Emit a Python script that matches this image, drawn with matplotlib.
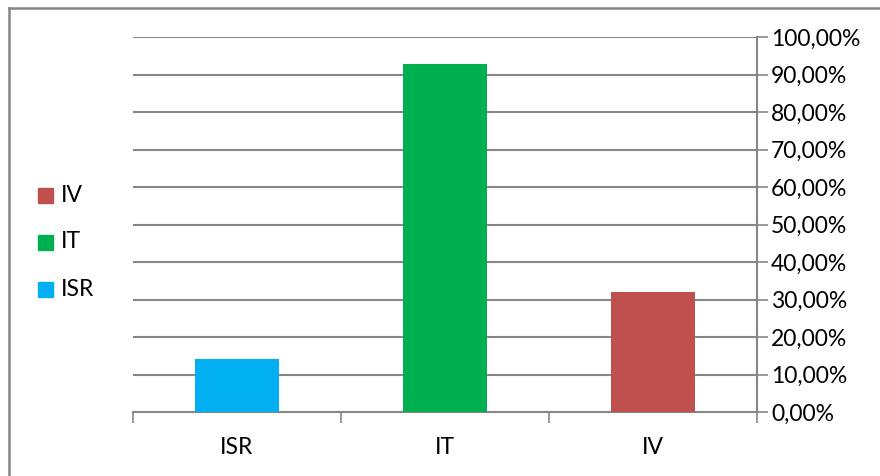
import matplotlib
matplotlib.use("Agg")
import matplotlib.pyplot as plt
from matplotlib.lines import Line2D
from matplotlib.patches import Rectangle

categories = ["ISR", "IT", "IV"]
values = [14.2, 92.8, 32.0]
colors = ["#00B0F0", "#00B050", "#C0504D"]
yticks = [0, 10, 20, 30, 40, 50, 60, 70, 80, 90, 100]
ytick_labels = ["0,00%", "10,00%", "20,00%", "30,00%", "40,00%", "50,00%",
                "60,00%", "70,00%", "80,00%", "90,00%", "100,00%"]
legend_order = ["IV", "IT", "ISR"]

plt.rcParams['font.family'] = ['Lato', 'DejaVu Sans']
FS = 16.5
W, H = 880, 476
fig = plt.figure(figsize=(W / 100, H / 100), dpi=100)
ax = fig.add_axes([133 / W, 1 - 412 / H, (757 - 133) / W, (412 - 37) / H])

grid_c = "#868686"
x = list(range(len(categories)))
ax.bar(x, values, width=0.40, color=colors, zorder=3)
ax.set_xlim(-0.5, len(categories) - 0.5)
ax.set_ylim(0, 100)

for y in yticks[1:]:
    ax.axhline(y, color=grid_c, lw=1.5, zorder=1)

ax.yaxis.tick_right()
ax.set_yticks(yticks)
ax.set_yticklabels(ytick_labels, fontsize=FS, color="#000000")
ax.tick_params(axis='y', length=8, width=1.2, color=grid_c, pad=2)

ax.set_xticks(x)
ax.set_xticklabels(categories, fontsize=FS)
ax.tick_params(axis='x', length=0, pad=18)
ax.set_xticks([i - 0.5 for i in range(len(categories) + 1)], minor=True)
ax.tick_params(axis='x', which='minor', length=8, width=1.2, color=grid_c)

for s in ['top', 'left']:
    ax.spines[s].set_visible(False)
ax.spines['bottom'].set_color(grid_c)
ax.spines['bottom'].set_linewidth(1.5)
ax.spines['right'].set_color(grid_c)
ax.spines['right'].set_linewidth(1.5)

# legend (manual, matching reference placement)
cmap = dict(zip(categories, colors))
for i, name in enumerate(legend_order):
    cy = 195 + i * 47
    fig.add_artist(Rectangle((38 / W, 1 - (cy + 7.5) / H), 15 / W, 15 / H,
                             transform=fig.transFigure, color=cmap[name]))
    fig.text(61 / W, 1 - cy / H, name, fontsize=FS, va='center', ha='left')

# outer frame (left and top edges)
fig.add_artist(Line2D([8.5 / W, 8.5 / W], [0, 1 - 7.5 / H], transform=fig.transFigure,
                      color=grid_c, lw=1.8))
fig.add_artist(Line2D([8.5 / W, 1], [1 - 7.5 / H, 1 - 7.5 / H], transform=fig.transFigure,
                      color=grid_c, lw=1.8))

fig.savefig("out.png", dpi=100)
